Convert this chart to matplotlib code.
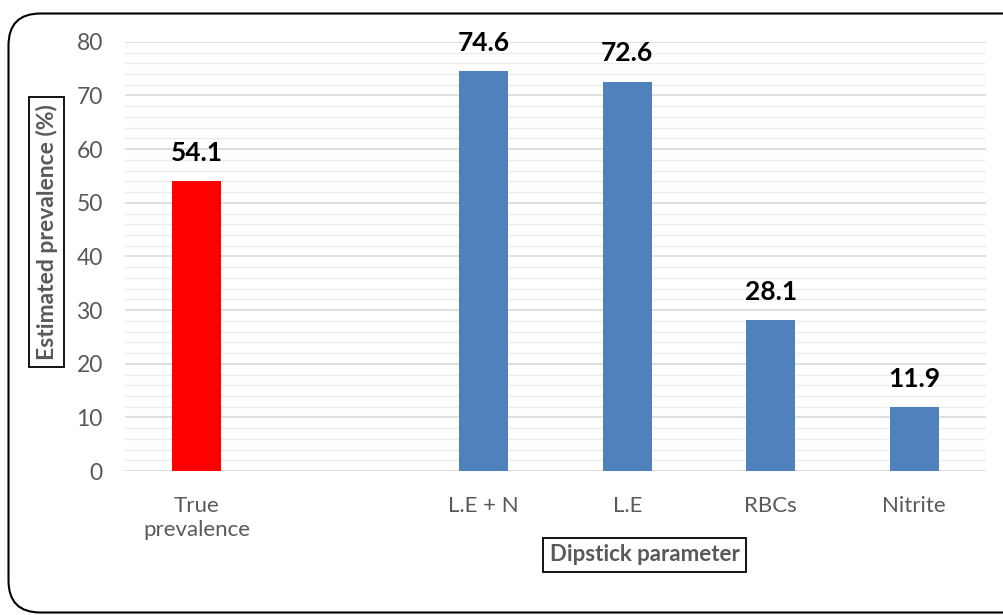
import numpy as np
import matplotlib.pyplot as plt
from matplotlib.patches import FancyBboxPatch

# ─── Data ─────────────────────────────────────────────────────────────────────
categories = ["True\nprevalence", "", "L.E + N", "L.E", "RBCs", "Nitrite"]
values     = [54.1, np.nan, 74.6, 72.6, 28.1, 11.9]
bar_colors = ["#FF0000", "#4F81BD", "#4F81BD", "#4F81BD", "#4F81BD", "#4F81BD"]
y_ticks    = [0, 10, 20, 30, 40, 50, 60, 70, 80]

GRAY = "#595959"
plt.rcParams["font.family"] = ["Lato", "DejaVu Sans"]

fig = plt.figure(figsize=(10.04, 6.15), dpi=100)
ax = fig.add_axes([0.1245, 0.234, 0.8575, 0.698])

# rounded chart border, in inches (right edge runs off the picture)
border = FancyBboxPatch((0.085, 0.025), 10.3, 5.99,
                        boxstyle="round,pad=0,rounding_size=0.32",
                        transform=fig.dpi_scale_trans, fill=False,
                        edgecolor="black", linewidth=1.5, clip_on=False)
fig.patches.append(border)

x = np.arange(len(categories))
ax.bar(x, values, width=0.34, color=bar_colors, zorder=3)

for xi, v in zip(x, values):
    if np.isnan(v):
        continue
    ax.text(xi, v + 3, f"{v:.1f}", ha="center", va="bottom",
            fontsize=19, fontweight="bold", color="black")

ax.set_xlim(-0.5, len(categories) - 0.5)
ax.set_ylim(0, 80)
ax.set_yticks(y_ticks)
ax.set_yticks(np.arange(0, 81, 2), minor=True)
ax.set_xticks(x)
ax.set_xticklabels(categories, fontsize=16, color=GRAY, linespacing=1.25)
ax.tick_params(axis="y", labelsize=16.5, labelcolor=GRAY, length=0, pad=16)
ax.tick_params(axis="y", which="minor", length=0)
ax.tick_params(axis="x", length=0, pad=18)

ax.grid(axis="y", which="major", color="#D9D9D9", linewidth=1.2, zorder=0)
ax.grid(axis="y", which="minor", color="#EDEDED", linewidth=1.0, zorder=0)
for s in ax.spines.values():
    s.set_visible(False)

box = dict(boxstyle="square,pad=0.3", facecolor="white", edgecolor="black", linewidth=1.3)
fig.text(0.0463, 0.623, "Estimated prevalence (%)", rotation=90, ha="center", va="center",
         fontsize=16.5, fontweight="bold", color=GRAY, bbox=box)
fig.text(0.642, 0.098, "Dipstick parameter", ha="center", va="center",
         fontsize=16, fontweight="bold", color=GRAY, bbox=box)

fig.savefig("out.png", dpi=100)
